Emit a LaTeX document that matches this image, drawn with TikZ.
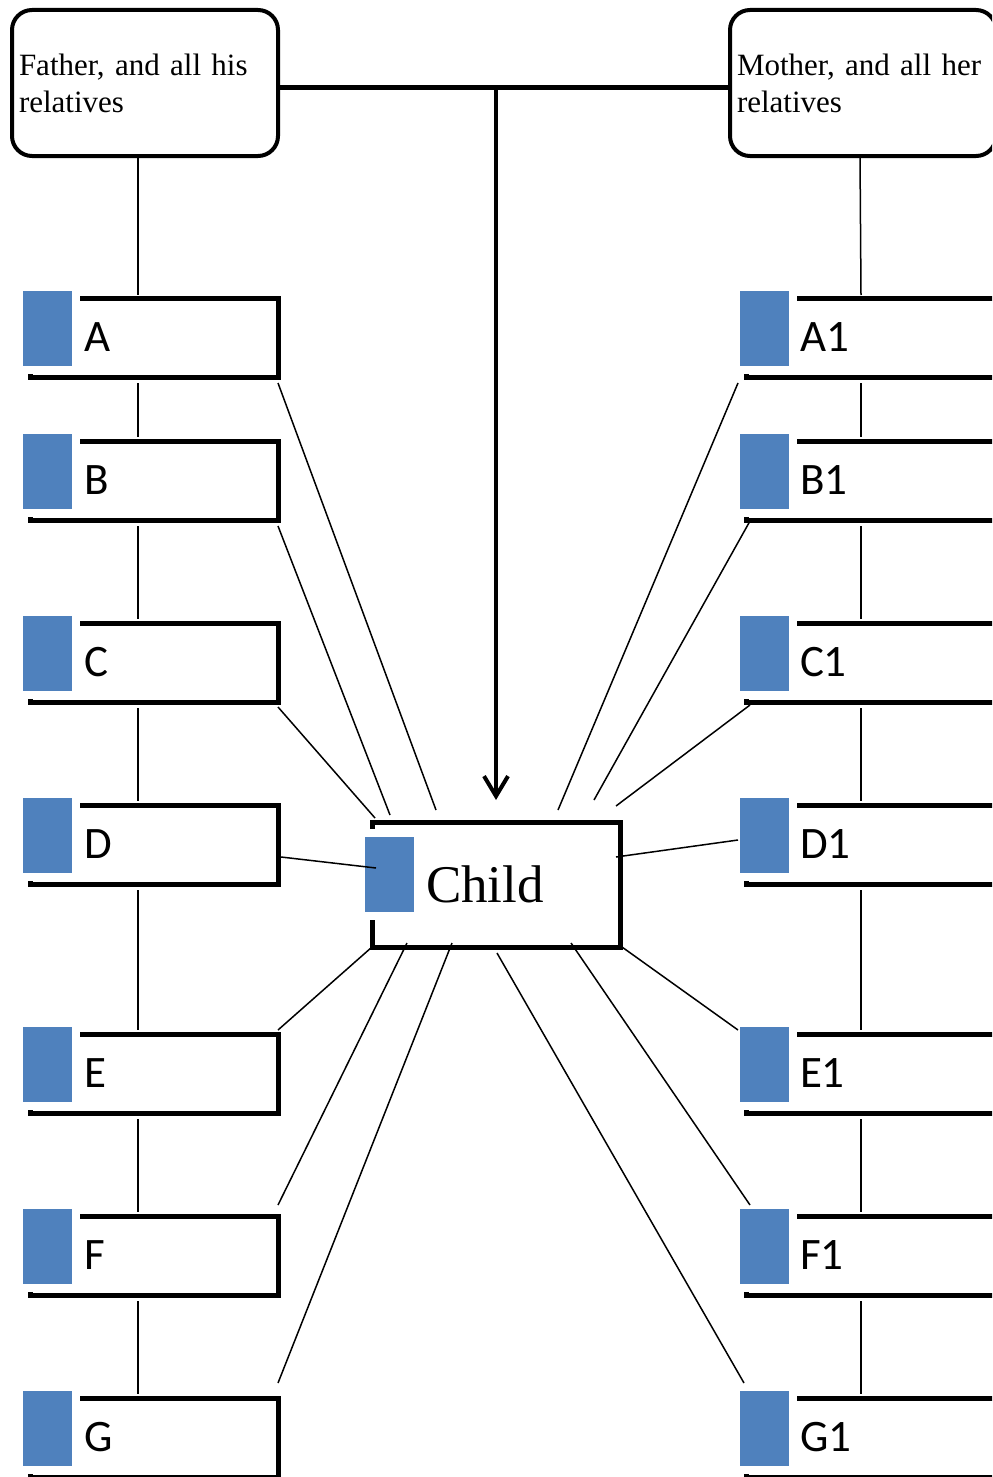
\documentclass[tikz,border=0pt]{standalone}
\usepackage{fontspec}
\setmainfont{Liberation Serif}
\newfontfamily\calibri{Carlito}
\usetikzlibrary{positioning,arrows.meta}
\definecolor{azuloffice}{HTML}{4F81BD}
\tikzset{
  parentbox/.style={draw, rounded corners=10pt, line width=2pt, outer sep=0pt, anchor=north west,
    minimum width=133pt, minimum height=73pt, text width=126pt, inner xsep=3.5pt, align=left,
    font=\fontsize{15.5}{18.5}\selectfont},
  relbox/.style={draw, line width=2.5pt, outer sep=0pt, anchor=north west, minimum width=124pt,
    minimum height=39.5pt, inner xsep=27pt, text width=70pt, align=left,
    font=\calibri\fontsize{22.5}{26}\selectfont},
  relboxr/.style={relbox, minimum width=132pt, text width=78pt},
  childbox/.style={draw, line width=2.5pt, outer sep=0pt, anchor=north west, minimum width=124pt,
    minimum height=62.5pt, inner xsep=27pt, text width=70pt, align=left,
    font=\fontsize{26.5}{30}\selectfont},
  sq/.style={fill=azuloffice, draw=white, line width=4pt, outer sep=0pt, anchor=north west,
    minimum width=28.5pt, minimum height=41.5pt, inner sep=0pt},
  kin/.style={line width=0.75pt},
  chain/.style={line width=0.75pt, shorten <=3pt, shorten >=2pt},
}
\begin{document}
\begin{tikzpicture}[x=0.5pt, y=-0.5pt]
  \clip (0,0) rectangle (992,1477);
  % parents
  \node[parentbox] (father) at (12,10) {Father, and all his relatives};
  \node[parentbox] (mother) at (730,10) {Mother, and all her relatives};
  % father side
  \node[relbox] (A) at (30,298) {A};
  \node[sq] (Aq) at ([shift={(-11,-11)}]A.north west) {};
  \node[relbox] (B) at (30,441) {B};
  \node[sq] (Bq) at ([shift={(-11,-11)}]B.north west) {};
  \node[relbox] (C) at (30,623) {C};
  \node[sq] (Cq) at ([shift={(-11,-11)}]C.north west) {};
  \node[relbox] (D) at (30,805) {D};
  \node[sq] (Dq) at ([shift={(-11,-11)}]D.north west) {};
  \node[relbox] (E) at (30,1034) {E};
  \node[sq] (Eq) at ([shift={(-11,-11)}]E.north west) {};
  \node[relbox] (F) at (30,1216) {F};
  \node[sq] (Fq) at ([shift={(-11,-11)}]F.north west) {};
  \node[relbox] (G) at (30,1398) {G};
  \node[sq] (Gq) at ([shift={(-11,-11)}]G.north west) {};
  % mother side
  \node[relboxr] (A1) at (746,298) {A1};
  \node[sq] (A1q) at ([shift={(-10,-11)}]A1.north west) {};
  \node[relboxr] (B1) at (746,441) {B1};
  \node[sq] (B1q) at ([shift={(-10,-11)}]B1.north west) {};
  \node[relboxr] (C1) at (746,623) {C1};
  \node[sq] (C1q) at ([shift={(-10,-11)}]C1.north west) {};
  \node[relboxr] (D1) at (746,805) {D1};
  \node[sq] (D1q) at ([shift={(-10,-11)}]D1.north west) {};
  \node[relboxr] (E1) at (746,1034) {E1};
  \node[sq] (E1q) at ([shift={(-10,-11)}]E1.north west) {};
  \node[relboxr] (F1) at (746,1216) {F1};
  \node[sq] (F1q) at ([shift={(-10,-11)}]F1.north west) {};
  \node[relboxr] (G1) at (746,1398) {G1};
  \node[sq] (G1q) at ([shift={(-10,-11)}]G1.north west) {};
  % child
  \node[childbox] (child) at (372,822) {Child};
  \node[sq] (childq) at ([shift={(-11,11)}]child.north west) {};
  % parents to child
  \draw[line width=2.5pt] ([yshift=-2.5pt]father.east) -- ([yshift=-2.5pt]mother.west);
  \coordinate (cruce) at (496,87);
  \draw[line width=2pt, -{Straight Barb[length=10pt,width=12pt]}, shorten >=11pt] (cruce) -- (child.north);
  % lines of each side
  \draw[kin] ([xshift=-3.5pt]father.south) -- ([shift={(-16,-3)}]A.north);
  \draw[chain] ([xshift=-8pt]A.south) -- ([xshift=-8pt]B.north);
  \draw[chain] ([xshift=-8pt]B.south) -- ([xshift=-8pt]C.north);
  \draw[chain] ([xshift=-8pt]C.south) -- ([xshift=-8pt]D.north);
  \draw[chain] ([xshift=-8pt]D.south) -- ([xshift=-8pt]E.north);
  \draw[chain] ([xshift=-8pt]E.south) -- ([xshift=-8pt]F.north);
  \draw[chain] ([xshift=-8pt]F.south) -- ([xshift=-8pt]G.north);
  \draw[kin] ([xshift=-1.5pt]mother.south) -- ([shift={(-17,-3)}]A1.north);
  \draw[chain] ([xshift=-8.5pt]A1.south) -- ([xshift=-8.5pt]B1.north);
  \draw[chain] ([xshift=-8.5pt]B1.south) -- ([xshift=-8.5pt]C1.north);
  \draw[chain] ([xshift=-8.5pt]C1.south) -- ([xshift=-8.5pt]D1.north);
  \draw[chain] ([xshift=-8.5pt]D1.south) -- ([xshift=-8.5pt]E1.north);
  \draw[chain] ([xshift=-8.5pt]E1.south) -- ([xshift=-8.5pt]F1.north);
  \draw[chain] ([xshift=-8.5pt]F1.south) -- ([xshift=-8.5pt]G1.north);
  % relatives to child
  \draw[kin] ([shift={(0,6)}]A.south east) -- ([shift={(64,-12)}]child.north west);
  \draw[kin] ([shift={(0,6)}]B.south east) -- ([shift={(18,-7)}]child.north west);
  \draw[kin] ([shift={(0,5)}]C.south east) -- ([shift={(3,-4)}]child.north west);
  \draw[kin] ([shift={(3,12.5)}]D.east) -- ([shift={(4,-16.5)}]child.west);
  \draw[kin] ([shift={(0,-4)}]E.north east) -- (child.south west);
  \draw[kin] ([shift={(0,-11)}]F.north east) -- ([shift={(35,-4)}]child.south west);
  \draw[kin] ([shift={(0,-15)}]G.north east) -- ([shift={(80,-4)}]child.south west);
  \draw[kin] ([shift={(-8,6)}]A1.south west) -- ([shift={(186,-12)}]child.north west);
  \draw[kin] ([shift={(4,1)}]B1.south west) -- ([shift={(-26,-22)}]child.north east);
  \draw[kin] ([shift={(4,3)}]C1.south west) -- ([shift={(-4,-16)}]child.north east);
  \draw[kin] ([shift={(-8,-4.5)}]D1.west) -- ([shift={(-4,-27.5)}]child.east);
  \draw[kin] ([shift={(-8,-4)}]E1.north west) -- ([shift={(2,0)}]child.south east);
  \draw[kin] ([shift={(4,-11)}]F1.north west) -- ([shift={(-49,-4)}]child.south east);
  \draw[kin] ([shift={(-2,-15)}]G1.north west) -- ([shift={(-123,6)}]child.south east);
\end{tikzpicture}
\end{document}
